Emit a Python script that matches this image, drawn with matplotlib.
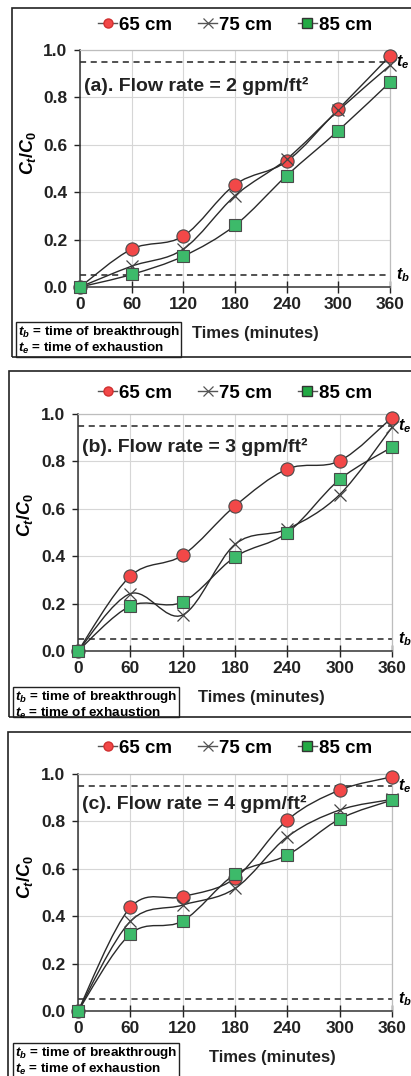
import numpy as np
import matplotlib
matplotlib.use("Agg")
import matplotlib.pyplot as plt
from matplotlib.path import Path
from matplotlib.patches import PathPatch, Rectangle
from matplotlib.lines import Line2D

plt.rcParams['font.family'] = 'Liberation Sans'
plt.rcParams['font.weight'] = 'bold'
plt.rcParams['mathtext.fontset'] = 'custom'
plt.rcParams['mathtext.it'] = 'Liberation Sans:italic:bold'
plt.rcParams['mathtext.rm'] = 'Liberation Sans:bold'
plt.rcParams['mathtext.bf'] = 'Liberation Sans:bold'

# Data
times = [0, 60, 120, 180, 240, 300, 360]
series_names = ["65 cm", "75 cm", "85 cm"]

a_65 = [0, 0.16, 0.215, 0.432, 0.53, 0.75, 0.975]
a_75 = [0, 0.088, 0.16, 0.385, 0.54, 0.745, 0.935]
a_85 = [0, 0.053, 0.13, 0.26, 0.47, 0.66, 0.864]

b_65 = [0, 0.316, 0.404, 0.612, 0.768, 0.802, 0.985]
b_75 = [0, 0.242, 0.152, 0.45, 0.515, 0.66, 0.944]
b_85 = [0, 0.19, 0.207, 0.397, 0.499, 0.724, 0.86]

c_65 = [0, 0.437, 0.482, 0.56, 0.806, 0.932, 0.988]
c_75 = [0, 0.378, 0.447, 0.517, 0.735, 0.848, 0.893]
c_85 = [0, 0.325, 0.38, 0.577, 0.658, 0.81, 0.89]

titles = ["(a). Flow rate = 2 gpm/ft\u00b2",
          "(b). Flow rate = 3 gpm/ft\u00b2",
          "(c). Flow rate = 4 gpm/ft\u00b2"]
t_exhaust = 0.95
t_break = 0.05

W, H = 411, 1076
fig = plt.figure(figsize=(W/100, H/100), dpi=100)

def fx(x):
    return x / W

def fy(y):
    return 1 - y / H

# excel-like smoothed line (bezier through the points)
def smooth_path(xs, ys):
    pts = np.column_stack([xs, ys]).astype(float)
    n = len(pts)
    verts = [pts[0]]
    codes = [Path.MOVETO]
    for i in range(n - 1):
        p0 = pts[i-1] if i > 0 else pts[i]
        p1 = pts[i]
        p2 = pts[i+1]
        p3 = pts[i+2] if i + 2 < n else pts[i+1]
        verts += [p1 + (p2 - p0)/6, p2 - (p3 - p1)/6, p2]
        codes += [Path.CURVE4]*3
    return Path(verts, codes)

red = "#f24848"
green = "#3dba6a"
edge = "#4a4a4a"

# panel layout in pixels: axes left, right, top, bottom / frame left, top, bottom
panels = [
    dict(ax=(80, 390, 50, 287), frame=(12, 8, 357), box=(16, 322, 181, 357),
         ylab=0.565, xlab=0.565, leg=25, data=(a_65, a_75, a_85), ttl=0.848),
    dict(ax=(78, 392, 414, 651), frame=(9, 371, 717), box=(13, 687, 179, 717),
         ylab=0.574, xlab=0.585, leg=393, data=(b_65, b_75, b_85), ttl=0.861),
    dict(ax=(78, 392, 774, 1011), frame=(8, 732, 1095), box=(13, 1043, 179, 1095),
         ylab=0.565, xlab=0.62, leg=748, data=(c_65, c_75, c_85), ttl=0.873),
]

for k, p in enumerate(panels):
    l, r, t, b = p['ax']
    ax = fig.add_axes([fx(l), fy(b), (r - l)/W, (b - t)/H])
    ax.set_xlim(0, 360)
    ax.set_ylim(0, 1)
    ax.set_xticks(times)
    ax.set_yticks([0, 0.2, 0.4, 0.6, 0.8, 1.0])
    ax.set_yticklabels(["0.0", "0.2", "0.4", "0.6", "0.8", "1.0"])
    ax.tick_params(axis='both', labelsize=12.5, colors='#222222')
    ax.tick_params(axis='y', direction='out', length=4, width=1, pad=5)
    ax.tick_params(axis='x', direction='inout', length=8, width=1, pad=3)
    ax.grid(True, color='#d6d6d6', lw=0.8)
    ax.set_axisbelow(True)
    for s in ['left', 'bottom']:
        ax.spines[s].set_color('#333333')
        ax.spines[s].set_linewidth(1.1)
    for s in ['top', 'right']:
        ax.spines[s].set_color('#bdbdbd')
        ax.spines[s].set_linewidth(0.9)

    ax.axhline(t_exhaust, color='#222222', lw=1.1, ls=(0, (4, 3)))
    ax.axhline(t_break, color='#222222', lw=1.1, ls=(0, (4, 3)))

    y65, y75, y85 = p['data']
    for ys in (y65, y75, y85):
        ax.add_patch(PathPatch(smooth_path(times, ys), fill=False,
                               edgecolor='#2a2a2a', lw=1.0, zorder=3))
    ax.plot(times, y65, ls='none', marker='o', ms=9.5, mfc=red, mec=edge,
            mew=0.8, zorder=4, clip_on=False)
    ax.plot(times, y75, ls='none', marker='x', ms=8.5, color='#444444',
            mew=0.9, zorder=4, clip_on=False)
    ax.plot(times, y85, ls='none', marker='s', ms=9, mfc=green, mec=edge,
            mew=0.8, zorder=5, clip_on=False)

    ax.text(0.012, p['ttl'], titles[k], transform=ax.transAxes, fontsize=14,
            va='center', ha='left', color='#222222')
    ax.text(1.018, t_exhaust, "$t_e$", transform=ax.get_yaxis_transform(),
            fontsize=11.5, va='center', ha='left', clip_on=False)
    ax.text(1.018, t_break, "$t_b$", transform=ax.get_yaxis_transform(),
            fontsize=11.5, va='center', ha='left', clip_on=False)

    ax.text(-0.168, p['ylab'], "$C_t/C_0$", transform=ax.transAxes,
            rotation=90, fontsize=13, va='center', ha='center')
    ax.text(p['xlab'], -0.195, "Times (minutes)", transform=ax.transAxes,
            fontsize=12, va='center', ha='center', color='#222222')

    handles = [
        Line2D([], [], color='#555555', lw=1, marker='o', ms=6.5, mfc=red, mec='#d03030'),
        Line2D([], [], color='#555555', lw=1, marker='x', ms=7, mew=0.9),
        Line2D([], [], color='#555555', lw=1, marker='s', ms=6.5, mfc='#22aa44', mec='#333333'),
    ]
    leg_y = (b - p['leg']) / (b - t)
    ax.legend(handles, series_names, loc='center', bbox_to_anchor=(0.5, leg_y),
              ncol=3, frameon=False, fontsize=13.5, handlelength=1.0,
              handletextpad=0.1, columnspacing=1.4, borderaxespad=0)

    # outer frame of the panel
    fl, ft, fb = p['frame']
    fig.patches.append(Rectangle((fx(fl), fy(fb)), (430 - fl)/W, (fb - ft)/H,
                                 transform=fig.transFigure, fill=False,
                                 edgecolor='#222222', lw=1.2))
    # definitions box
    bl, bt, br, bb = p['box']
    fig.patches.append(Rectangle((fx(bl), fy(bb)), (br - bl)/W, (bb - bt)/H,
                                 transform=fig.transFigure, fill=False,
                                 edgecolor='#222222', lw=1.0))
    fig.text(fx(bl + 2), fy(bt + 10), "$t_b$ = time of breakthrough",
             fontsize=9.7, va='center', ha='left')
    fig.text(fx(bl + 2), fy(bt + 26), "$t_e$ = time of exhaustion",
             fontsize=9.7, va='center', ha='left')

fig.savefig("out.png", dpi=100)
